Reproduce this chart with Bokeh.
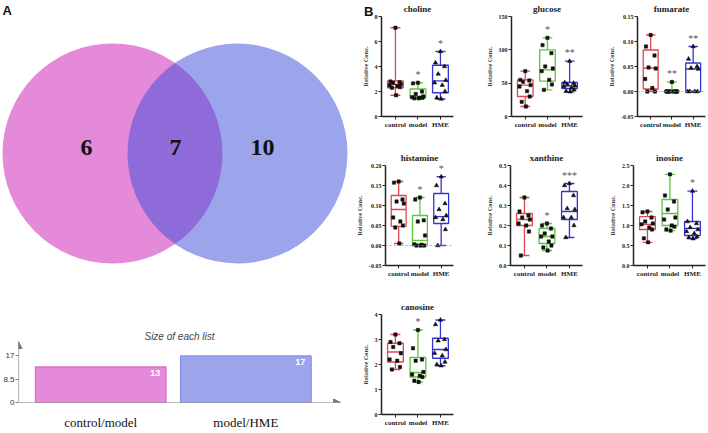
from bokeh.plotting import figure
from bokeh.layouts import row, column
from bokeh.models import (Range1d, FixedTicker, Label, LabelSet, Arrow, NormalHead,
                          Span, ColumnDataSource, LinearAxis, Div)
from bokeh.embed import file_html
from bokeh.resources import INLINE
from bokeh.core.properties import value

# ---------------- data ----------------
venn_sets = ["control/model", "model/HME"]
venn_counts = [6, 7, 10]          # left only, shared, right only
list_sizes = [13, 17]
size_ticks = [0, 8.5, 17]
size_tick_labels = ["0", "8.5", "17"]

groups = ["control", "model", "HME"]
metabolites = ["choline", "glucose", "fumarate", "histamine", "xanthine", "inosine", "canosine"]

choline_pts = [[7.1, 2.8, 2.75, 2.7, 2.6, 2.5, 2.45, 2.35, 2.3, 1.7],
               [2.7, 2.65, 2.0, 1.8, 1.6, 1.55, 1.5, 1.5, 1.45, 1.45],
               [5.2, 4.3, 4.0, 3.4, 2.9, 2.7, 2.5, 2.0, 1.5, 1.4]]
choline_box = [[1.7, 2.3, 2.55, 2.85, 7.1], [1.45, 1.5, 1.6, 2.2, 2.7], [1.4, 1.9, 2.85, 4.1, 5.2]]
choline_stars = ["", "*", "*"]
choline_ticks = [0, 2, 4, 6, 8]
choline_labels = ["0", "2", "4", "6", "8"]

glucose_pts = [[68, 55, 54, 52, 47, 45, 38, 30, 22, 15],
               [118, 107, 95, 75, 72, 68, 55, 48, 40],
               [83, 51, 50, 48, 46, 45, 43, 40, 38, 37]]
glucose_box = [[15, 30, 47, 55, 68], [40, 53, 70, 100, 118], [37, 42, 46, 51, 83]]
glucose_stars = ["", "*", "**"]
glucose_ticks = [0, 50, 100, 150]
glucose_labels = ["0", "50", "100", "150"]

fumarate_pts = [[0.113, 0.09, 0.072, 0.048, 0.046, 0.025, 0.007, 0.0, 0.0],
                [0.019, 0.0, 0.0, 0.0, 0.0, 0.0, 0.0, 0.0, 0.0],
                [0.09, 0.065, 0.05, 0.047, 0.045, 0.0, 0.0, 0.0, 0.0]]
fumarate_box = [[0.0, 0.005, 0.047, 0.083, 0.113], [0.0, 0.0, 0.0, 0.001, 0.019], [0.0, 0.0, 0.045, 0.057, 0.09]]
fumarate_stars = ["", "**", "**"]
fumarate_ticks = [-0.05, 0.0, 0.05, 0.10, 0.15]
fumarate_labels = ["-0.05", "0.00", "0.05", "0.10", "0.15"]

histamine_pts = [[0.16, 0.157, 0.115, 0.11, 0.105, 0.07, 0.06, 0.05, 0.045, 0.005],
                 [0.12, 0.115, 0.063, 0.06, 0.025, 0.003, 0.002, 0.0, 0.0, 0.0],
                 [0.172, 0.15, 0.105, 0.09, 0.075, 0.07, 0.065, 0.04, 0.0]]
histamine_box = [[0.005, 0.048, 0.09, 0.125, 0.16], [0.0, 0.0, 0.013, 0.075, 0.12], [0.0, 0.055, 0.072, 0.13, 0.172]]
histamine_stars = ["", "*", "*"]
histamine_ticks = [-0.05, 0.0, 0.05, 0.10, 0.15, 0.20]
histamine_labels = ["-0.05", "0.00", "0.05", "0.10", "0.15", "0.20"]

xanthine_pts = [[0.34, 0.27, 0.25, 0.24, 0.23, 0.21, 0.2, 0.17, 0.05],
                [0.21, 0.2, 0.185, 0.16, 0.145, 0.145, 0.12, 0.1, 0.09, 0.075],
                [0.41, 0.4, 0.35, 0.285, 0.28, 0.24, 0.24, 0.2, 0.14]]
xanthine_box = [[0.05, 0.2, 0.23, 0.26, 0.34], [0.075, 0.11, 0.145, 0.185, 0.21], [0.14, 0.23, 0.27, 0.37, 0.41]]
xanthine_stars = ["", "*", "***"]
xanthine_ticks = [0.0, 0.1, 0.2, 0.3, 0.4, 0.5]
xanthine_labels = ["0.0", "0.1", "0.2", "0.3", "0.4", "0.5"]

inosine_pts = [[1.35, 1.33, 1.2, 1.1, 1.05, 1.03, 0.95, 0.9, 0.68, 0.58],
               [2.28, 1.75, 1.6, 1.4, 1.2, 1.15, 1.0, 0.97, 0.9, 0.87],
               [1.86, 1.1, 1.05, 0.95, 0.9, 0.85, 0.8, 0.72, 0.7, 0.67]]
inosine_box = [[0.58, 0.9, 1.03, 1.22, 1.35], [0.87, 1.0, 1.3, 1.65, 2.28], [0.67, 0.75, 0.93, 1.1, 1.86]]
inosine_stars = ["", "*", "*"]
inosine_ticks = [0.0, 0.5, 1.0, 1.5, 2.0, 2.5]
inosine_labels = ["0.0", "0.5", "1.0", "1.5", "2.0", "2.5"]

canosine_pts = [[3.2, 2.9, 2.85, 2.7, 2.45, 2.2, 2.15, 1.9, 1.8],
                [3.38, 2.65, 2.2, 2.15, 1.7, 1.6, 1.55, 1.5, 1.35, 1.3],
                [3.78, 3.6, 3.0, 2.95, 2.6, 2.45, 2.35, 2.1, 2.0, 1.95]]
canosine_box = [[1.8, 2.1, 2.5, 2.85, 3.2], [1.3, 1.5, 1.68, 2.28, 3.38], [1.95, 2.25, 2.6, 3.05, 3.78]]
canosine_stars = ["", "*", "*"]
canosine_ticks = [0, 1, 2, 3, 4]
canosine_labels = ["0", "1", "2", "3", "4"]

# ---------------- styles ----------------
SERIF = "Liberation Serif"
SANS = "Liberation Sans"
PINK = "#C915B1"
BLUE = "#3949D9"
GROUP_COLORS = ["#E0474E", "#5EC63C", "#3434D6"]
JITTER = [0.0, -0.22, 0.18, -0.1, 0.24, -0.26, 0.08, 0.2, -0.16, 0.03]

LEFT_W = 353
VENN_H = 312
BAR_H = 120


def clean(p):
    p.grid.visible = False
    p.outline_line_color = None
    p.background_fill_color = None
    p.border_fill_color = None


# ---------------- Venn ----------------
vf = figure(width=LEFT_W, height=VENN_H, x_range=Range1d(0, LEFT_W), y_range=Range1d(VENN_H, 0),
            output_backend="svg", toolbar_location=None, min_border=0,
            x_axis_location=None, y_axis_location=None)
clean(vf)
vf.circle(x=[112], y=[153], radius=110, fill_color=PINK, fill_alpha=0.5, line_color=None)
vf.circle(x=[237], y=[153], radius=110, fill_color=BLUE, fill_alpha=0.5, line_color=None)
vf.text(x=[86, 175, 262], y=[147, 147, 147], text=[str(c) for c in venn_counts],
        text_font=value(SERIF), text_font_style="bold", text_font_size="24px",
        text_align="center", text_baseline="middle", text_color="#111111")
vf.add_layout(Label(x=2, y=2, text="A", text_font=SANS, text_font_style="bold",
                    text_font_size="13px", text_baseline="top", text_color="#111111"))

# ---------------- list size bars ----------------
bx = [1, 2]
BY1 = 22.26
bf = figure(width=LEFT_W, height=BAR_H, x_range=Range1d(0.4335, 2.652), y_range=Range1d(0, BY1),
            output_backend="svg", toolbar_location=None, min_border_left=15,
            min_border_right=13, min_border_top=29, min_border_bottom=19,
            title="Size of each list")
clean(bf)
bf.title.align = "center"
bf.title.text_font = SANS
bf.title.text_font_style = "italic"
bf.title.text_font_size = "10px"
bf.title.text_color = "#444444"
bf.title.standoff = 0
bf.vbar(x=bx, top=list_sizes, width=0.9, bottom=0,
        fill_color=[PINK, BLUE], fill_alpha=0.5,
        line_color=["#D56BC8", "#8290E4"], line_width=1.2)
bf.text(x=[v + 0.41 for v in bx], y=[s - 1.0 for s in list_sizes], text=[str(s) for s in list_sizes],
        text_font=value(SANS), text_font_style="bold", text_font_size="9px",
        text_color="white", text_align="right", text_baseline="top")
bf.yaxis.ticker = FixedTicker(ticks=size_ticks)
bf.yaxis.major_label_overrides = dict(zip(size_ticks, size_tick_labels))
bf.yaxis.axis_line_color = None
bf.yaxis.major_tick_line_color = "#888888"
bf.yaxis.major_tick_in = 0
bf.yaxis.major_tick_out = 3
bf.yaxis.minor_tick_line_color = None
bf.yaxis.major_label_text_font = SANS
bf.yaxis.major_label_text_font_size = "8px"
bf.yaxis.major_label_text_color = "#333333"
bf.yaxis.major_label_standoff = 1
bf.xaxis.ticker = FixedTicker(ticks=bx)
bf.xaxis.major_label_overrides = dict(zip(bx, venn_sets))
bf.xaxis.axis_line_color = None
bf.xaxis.major_tick_line_color = None
bf.xaxis.minor_tick_line_color = None
bf.xaxis.major_label_text_font = SERIF
bf.xaxis.major_label_text_font_size = "13px"
bf.xaxis.major_label_text_color = "#111111"
bf.xaxis.major_label_standoff = 6
bf.add_layout(Arrow(x_start=0.4335, y_start=0, x_end=0.4335, y_end=BY1, line_color="#777777",
                    line_width=1.2, end=NormalHead(size=7, fill_color="#777777", line_color="#777777")))
bf.add_layout(Arrow(x_start=0.4335, y_start=0, x_end=2.652, y_end=0, line_color="#777777",
                    line_width=1.2, end=NormalHead(size=7, fill_color="#777777", line_color="#777777")))


# ---------------- box panels ----------------
XR = (0.38, 3.58)
FRAME_W = 72
FRAME_H = 101
BORDER_L = 28
BORDER_T = 15


def box_panel(name, pts, box, stars, ticks, labels, width, height, zero=False):
    y0, y1 = ticks[0], ticks[-1]
    rng = y1 - y0
    p = figure(width=width, height=height, x_range=Range1d(*XR), y_range=Range1d(y0, y1),
               output_backend="svg", toolbar_location=None, min_border_left=BORDER_L,
               min_border_right=width - BORDER_L - FRAME_W, min_border_top=BORDER_T,
               min_border_bottom=height - BORDER_T - FRAME_H)
    clean(p)
    if zero:
        p.add_layout(Span(location=0, dimension="width", line_color="#999999",
                          line_dash="2 2", line_width=0.8))
    xs = [1, 2, 3]
    for i, (g, col) in enumerate(zip(groups, GROUP_COLORS)):
        mn, q1, md, q3, mx = box[i]
        x = xs[i]
        p.vbar(x=[x], bottom=[q1], top=[q3], width=0.7, fill_color="white", fill_alpha=0.0,
               line_color=col, line_width=1.3)
        p.segment(x0=[x - 0.35, x, x, x - 0.22, x - 0.22], x1=[x + 0.35, x, x, x + 0.22, x + 0.22],
                  y0=[md, mn, q3, mn, mx], y1=[md, q1, mx, mn, mx], line_color=col, line_width=1.3)
        vals = sorted(pts[i], reverse=True)
        px = [x + JITTER[j % len(JITTER)] for j in range(len(vals))]
        if g == "HME":
            p.scatter(x=px, y=vals, marker="triangle", size=4.4, fill_color="#111111",
                      line_color="#111111", line_width=0.5)
        else:
            p.scatter(x=px, y=vals, marker="square", size=3.3, fill_color="#111111",
                      line_color="#111111", line_width=0.5)
    src = ColumnDataSource(dict(x=[1, 2, 3], y=[b[4] + 0.085 * rng for b in box], t=stars))
    p.add_layout(LabelSet(x="x", y="y", text="t", source=src, text_align="center",
                          text_baseline="middle", text_font=value(SERIF), text_font_size="10px",
                          text_color="#555555"))
    p.yaxis.ticker = FixedTicker(ticks=ticks)
    p.yaxis.major_label_overrides = dict(zip(ticks, labels))
    p.yaxis.axis_label = "Relative Conc."
    p.yaxis.axis_label_text_font = SERIF
    p.yaxis.axis_label_text_font_style = "bold"
    p.yaxis.axis_label_text_font_size = "6.5px"
    p.yaxis.axis_label_standoff = 3
    p.xaxis.ticker = FixedTicker(ticks=xs)
    p.xaxis.major_label_overrides = dict(zip(xs, groups))
    for ax in (p.xaxis, p.yaxis):
        ax.axis_line_color = "#222222"
        ax.axis_line_width = 1.5
        ax.major_tick_line_color = "#222222"
        ax.major_tick_in = 0
        ax.major_tick_out = 3
        ax.minor_tick_line_color = None
        ax.major_label_text_font = SERIF
        ax.major_label_text_font_style = "bold"
        ax.major_label_text_color = "#222222"
        ax.major_label_standoff = 1
    p.yaxis.major_label_text_font_size = "6px"
    p.xaxis.major_label_text_font_size = "7px"
    # panel name as the label of an empty top axis (centred on the frame);
    # added after the bottom axis is styled so it keeps its own settings
    top = LinearAxis(axis_label=name, ticker=FixedTicker(ticks=[]), axis_line_color=None,
                     major_tick_line_color=None, minor_tick_line_color=None,
                     major_tick_out=0, major_tick_in=0, major_label_standoff=0,
                     major_label_text_font_size="0px", axis_label_standoff=3,
                     axis_label_text_font=SERIF, axis_label_text_font_style="bold",
                     axis_label_text_font_size="9px", axis_label_text_color="#222222")
    p.add_layout(top, "above")
    return p


W = [129, 123, 102]
H = [149, 149, 134]
c1 = box_panel("choline", choline_pts, choline_box, choline_stars, choline_ticks, choline_labels, W[0], H[0])
c2 = box_panel("glucose", glucose_pts, glucose_box, glucose_stars, glucose_ticks, glucose_labels, W[1], H[0])
c3 = box_panel("fumarate", fumarate_pts, fumarate_box, fumarate_stars, fumarate_ticks, fumarate_labels, W[2], H[0], zero=True)
c4 = box_panel("histamine", histamine_pts, histamine_box, histamine_stars, histamine_ticks, histamine_labels, W[0], H[1], zero=True)
c5 = box_panel("xanthine", xanthine_pts, xanthine_box, xanthine_stars, xanthine_ticks, xanthine_labels, W[1], H[1])
c6 = box_panel("inosine", inosine_pts, inosine_box, inosine_stars, inosine_ticks, inosine_labels, W[2], H[1])
c7 = box_panel("canosine", canosine_pts, canosine_box, canosine_stars, canosine_ticks, canosine_labels, W[0], H[2])

panel_b = Div(text="B", styles={"position": "absolute", "left": "359px", "top": "-2px",
                                "font-family": SANS, "font-weight": "bold", "font-size": "13px",
                                "color": "#111111", "z-index": "5"})

left = column(row(vf), row(bf))
right = column(row(c1, c2, c3), row(c4, c5, c6), row(c7))
layout = row(left, right, panel_b)

open("out.html", "w").write(file_html(layout, INLINE))
